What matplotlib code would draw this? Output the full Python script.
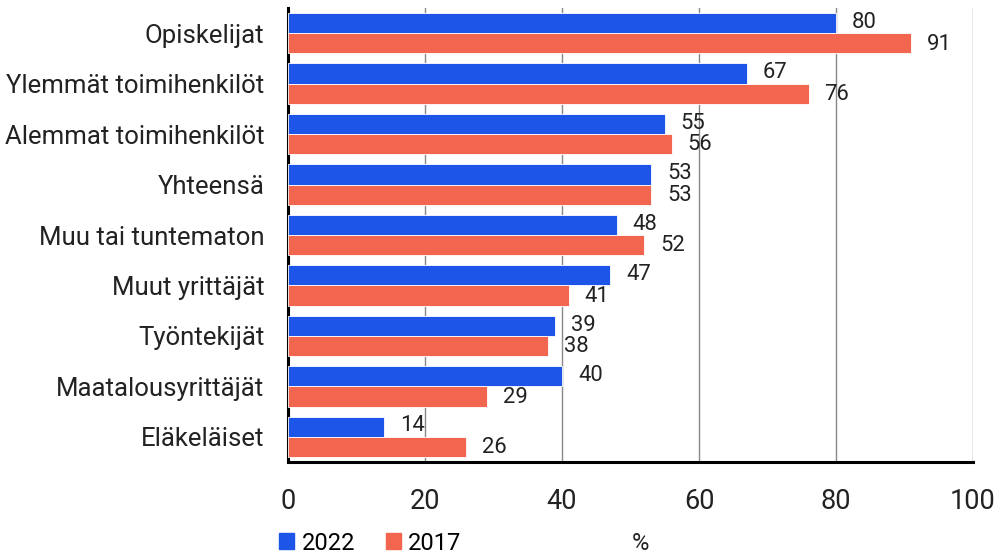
import matplotlib
matplotlib.use("Agg")
import matplotlib.pyplot as plt
from matplotlib.patches import Patch
import numpy as np

categories = ["Opiskelijat", "Ylemmät toimihenkilöt", "Alemmat toimihenkilöt", "Yhteensä",
              "Muu tai tuntematon", "Muut yrittäjät", "Työntekijät", "Maatalousyrittäjät", "Eläkeläiset"]
values_2022 = [80, 67, 55, 53, 48, 47, 39, 40, 14]
values_2017 = [91, 76, 56, 53, 52, 41, 38, 29, 26]
series_names = ["2022", "2017"]
xticks = [0, 20, 40, 60, 80, 100]

blue = "#1c55e8"
orange = "#f2654e"
txt = "#222222"

plt.rcParams['font.family'] = ['Roboto', 'DejaVu Sans']
fig = plt.figure(figsize=(10.02, 5.56), dpi=100)
ax = fig.add_axes([288/1002, 1-462/556, (973-288)/1002, (462-8)/556])

n = len(categories)
y = np.arange(n)
h = 0.4
ax.barh(y - h/2, values_2022, height=h, color=blue, edgecolor="white", linewidth=0.6, zorder=3)
ax.barh(y + h/2, values_2017, height=h, color=orange, edgecolor="white", linewidth=0.6, zorder=3)

vfs = 15.8
for yi, v in zip(y, values_2022):
    ax.annotate(str(v), (v, yi - h/2), xytext=(11.5, 0.5), textcoords="offset points",
                va="center", ha="left", fontsize=vfs, color=txt)
for yi, v in zip(y, values_2017):
    ax.annotate(str(v), (v, yi + h/2), xytext=(11.5, -0.5), textcoords="offset points",
                va="center", ha="left", fontsize=vfs, color=txt)

ax.set_ylim(n - 0.5, -0.5)
ax.set_xlim(0, 100)
ax.set_yticks(y)
ax.set_yticklabels(categories, fontsize=18.5, color=txt)
ax.set_xticks(xticks)
ax.set_xticklabels([str(t) for t in xticks], fontsize=19.5, color=txt)
ax.tick_params(axis="y", length=0, pad=17)
ax.tick_params(axis="x", length=0, pad=19)
ax.grid(axis="x", color="#888888", linewidth=1, zorder=0)
for s in ["top", "right"]:
    ax.spines[s].set_visible(False)
ax.spines["left"].set_linewidth(2.2)
ax.spines["bottom"].set_linewidth(2.2)
ax.spines["left"].set_color("black")
ax.spines["bottom"].set_color("black")

handles = [Patch(color=blue, label=series_names[0]), Patch(color=orange, label=series_names[1])]
fig.legend(handles=handles, loc="center left", bbox_to_anchor=(279/1002, 1-543/556), ncol=2,
           frameon=False, fontsize=17, handlelength=0.65, handleheight=0.65, handletextpad=0.3,
           columnspacing=1.3, borderaxespad=0, borderpad=0)
fig.text(640/1002, 1-543/556, "%", fontsize=17, ha="center", va="center", color=txt)

fig.savefig("out.png", dpi=100)
